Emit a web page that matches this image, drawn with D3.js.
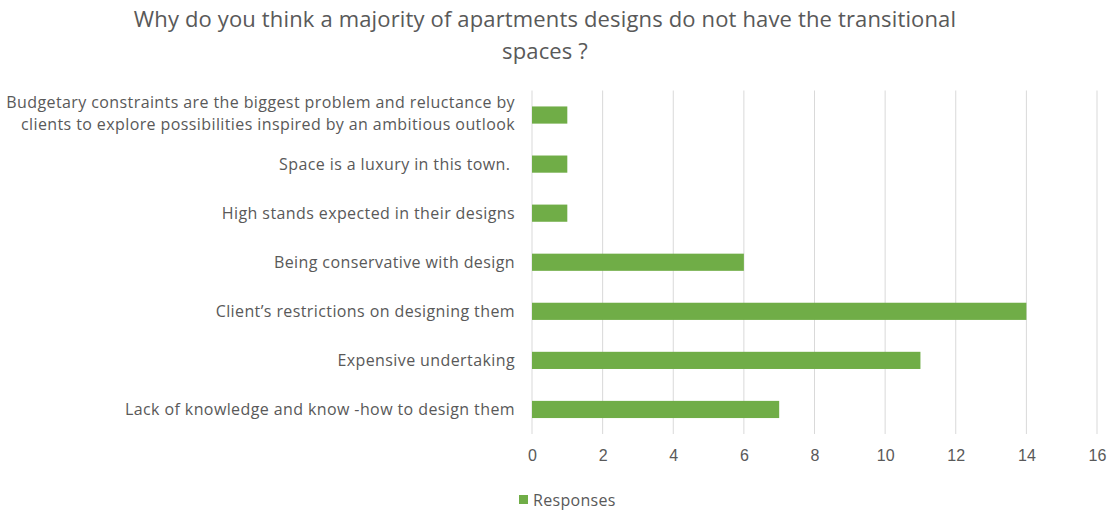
<!DOCTYPE html>
<html>
<head>
<meta charset="utf-8">
<script src="https://cdn.jsdelivr.net/npm/d3@7"></script>
<style>
  html, body { margin: 0; padding: 0; background: #fff; }
  svg { display: block; font-family: "Open Sans", Lato, "Liberation Sans", sans-serif; }
  .cat { white-space: pre; }
</style>
</head>
<body>
<svg id="chart" width="1110" height="512"></svg>
<script>
// Survey answers, listed top to bottom
const categories = [
  ["Budgetary constraints are the biggest problem and reluctance by", "clients to explore possibilities inspired by an ambitious outlook"],
  ["Space is a luxury in this town. "],
  ["High stands expected in their designs"],
  ["Being conservative with design"],
  ["Client\u2019s restrictions on designing them"],
  ["Expensive undertaking"],
  ["Lack of knowledge and know -how to design them"]
];
const responses = [1, 1, 1, 6, 14, 11, 7];
const xTicks = [0, 2, 4, 6, 8, 10, 12, 14, 16];
const titleLines = ["Why do you think a majority of apartments designs do not have the transitional", "spaces ?"];
const seriesName = "Responses";

const svg = d3.select("#chart");
const margin = { left: 532, right: 13, top: 90.5, bottom: 78 };
const W = 1110, H = 512;
const textColor = "#595959";

const x = d3.scaleLinear().domain([0, 16]).range([margin.left, W - margin.right]);
const y = d3.scaleBand().domain(d3.range(categories.length))
  .range([margin.top, H - margin.bottom]).paddingInner(0.65).paddingOuter(0.325);

// Title
svg.append("g").selectAll("text").data(titleLines).join("text")
  .attr("x", 545).attr("y", (d, i) => 19 + i * 32)
  .attr("dy", "0.35em")
  .attr("text-anchor", "middle")
  .attr("fill", textColor)
  .style("font-size", "22px")
  .style("letter-spacing", "0.15px")
  .text(d => d);

// Vertical gridlines
svg.append("g").selectAll("line").data(xTicks).join("line")
  .attr("x1", d => x(d)).attr("x2", d => x(d))
  .attr("y1", margin.top).attr("y2", H - margin.bottom)
  .attr("stroke", "#d9d9d9").attr("stroke-width", 1);

// Bars
svg.append("g").selectAll("rect").data(responses).join("rect")
  .attr("x", x(0))
  .attr("y", (d, i) => y(i))
  .attr("width", d => x(d) - x(0))
  .attr("height", y.bandwidth())
  .attr("fill", "#70ad47");

// X axis labels
const xAxis = d3.axisBottom(x).tickValues(xTicks).tickSize(0).tickPadding(0);
const gx = svg.append("g").attr("transform", `translate(0,${H - margin.bottom + 16})`).call(xAxis);
gx.select(".domain").remove();
gx.selectAll("text").attr("fill", textColor).style("font-size", "16px").style("font-family", "inherit");

// Category labels (wrapped labels sit slightly above the bar centre)
const lab = svg.append("g").selectAll("text").data(categories).join("text")
  .attr("class", "cat")
  .attr("text-anchor", "end")
  .attr("fill", textColor)
  .style("font-size", "16px")
  .style("letter-spacing", "0.4px")
  .attr("transform", (d, i) => `translate(515,${y(i) + y.bandwidth() / 2})`);
lab.selectAll("tspan").data(d => d.map((t, j) => ({ t, j, n: d.length }))).join("tspan")
  .attr("x", 0)
  .attr("y", d => (d.j - (d.n - 1) / 2) * 22 - (d.n > 1 ? 2 : 0))
  .attr("dy", "0.35em")
  .text(d => d.t);

// Legend
const lg = svg.append("g").attr("transform", "translate(519,500)");
lg.append("rect").attr("x", 0).attr("y", -5).attr("width", 9).attr("height", 9).attr("fill", "#70ad47");
lg.append("text").attr("x", 14).attr("y", 0).attr("dy", "0.35em")
  .attr("fill", textColor).style("font-size", "16px").style("letter-spacing", "0.3px").text(seriesName);
</script>
</body>
</html>
